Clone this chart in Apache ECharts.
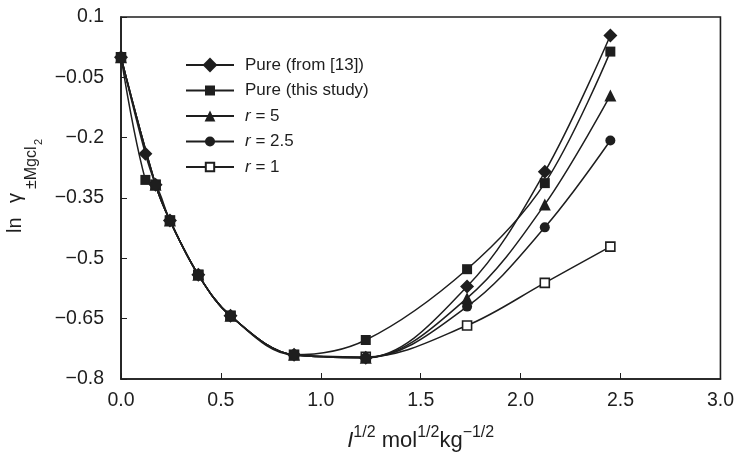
<!DOCTYPE html>
<html>
<head>
<meta charset="utf-8">
<script src="https://cdn.jsdelivr.net/npm/echarts@6/dist/echarts.min.js"></script>
<style>html,body{margin:0;padding:0;background:#fff}#c{width:737px;height:457px}</style>
</head>
<body>
<div id="c"></div>
<script>
// sqrt(I) values
var xPure = [0, 0.122, 0.173, 0.245, 0.387, 0.548, 0.866, 1.225, 1.732, 2.121, 2.449];
var xMix  = [0, 0.173, 0.245, 0.387, 0.548, 0.866, 1.225, 1.732, 2.121, 2.449];

var pureRef   = [0.000, -0.240, -0.317, -0.406, -0.541, -0.643, -0.740, -0.747, -0.570, -0.285, 0.054];
var pureStudy = [0.000, -0.305, -0.317, -0.406, -0.541, -0.643, -0.740, -0.703, -0.527, -0.313, 0.014];
var r5   = [0.000, -0.317, -0.406, -0.541, -0.643, -0.740, -0.747, -0.599, -0.366, -0.095];
var r25  = [0.000, -0.317, -0.406, -0.541, -0.643, -0.740, -0.747, -0.620, -0.423, -0.207];
var r1   = [0.000, -0.317, -0.406, -0.541, -0.643, -0.740, -0.745, -0.667, -0.561, -0.471];

var seriesNames = ['Pure (from [13])', 'Pure (this study)', 'r = 5', 'r = 2.5', 'r = 1'];
var xTickLabels = ['0.0', '0.5', '1.0', '1.5', '2.0', '2.5', '3.0'];
var yTickLabels = ['\u22120.8', '\u22120.65', '\u22120.5', '\u22120.35', '\u22120.2', '\u22120.05', '0.1'];

function pairs(xs, ys) { return ys.map(function (y, i) { return [xs[i], y]; }); }

var INK = '#1e1e1e';
var FONT = '"Liberation Sans", Arial, Helvetica, sans-serif';

function mk(name, xs, ys, symbol, size, hollow, z) {
  return {
    name: name, type: 'line', smooth: 0.35,
    data: pairs(xs, ys),
    symbol: symbol, symbolSize: size,
    showAllSymbol: true,
    lineStyle: { color: INK, width: 1.5 },
    itemStyle: hollow ? { color: '#fff', borderColor: INK, borderWidth: 1.6 } : { color: INK, borderColor: INK, borderWidth: 0 },
    emphasis: { disabled: true },
    z: z
  };
}

// one legend per row so each icon can carry its own marker size
var legendRowCenters = [65, 90.5, 116, 141.5, 167];
var legendIconHeights = [18.5, 12.5, 13.5, 12.5, 10.5];
var legends = seriesNames.map(function (n, i) {
  return {
    orient: 'vertical', left: 185, top: legendRowCenters[i] - 10, padding: 0,
    itemWidth: 48, itemHeight: legendIconHeights[i],
    data: [n],
    selectedMode: false,
    formatter: function (s) { return s.charAt(0) === 'r' ? '{i|r}{t|' + s.slice(1) + '}' : '{t|' + s + '}'; },
    textStyle: {
      color: INK, fontSize: 17, fontFamily: FONT, lineHeight: 20, padding: [0, 0, 0, 6],
      rich: {
        t: { fontSize: 17, fontFamily: FONT, color: INK, lineHeight: 20 },
        i: { fontSize: 17, fontFamily: FONT, color: INK, fontStyle: 'italic', lineHeight: 20 }
      }
    }
  };
});

function ytext(str, size, x, y) {
  return {
    type: 'text', x: x, y: y, rotation: Math.PI / 2, silent: true,
    style: { text: str, fontSize: size, fontFamily: FONT, fill: INK, align: 'left', verticalAlign: 'middle' }
  };
}

var chart = echarts.init(document.getElementById('c'), null, { renderer: 'canvas' });
chart.setOption({
  animation: false,
  backgroundColor: '#fff',
  textStyle: { fontFamily: FONT },
  grid: { left: 121, right: 15, top: 17, bottom: 66, show: true, borderColor: INK, borderWidth: 1.6, containLabel: false },
  legend: legends,
  xAxis: {
    type: 'value', min: 0, max: 3, interval: 0.5,
    axisLine: { onZero: false, lineStyle: { color: INK, width: 1.6 } },
    axisTick: { inside: true, length: 6, lineStyle: { color: INK, width: 1 } },
    splitLine: { show: false },
    axisLabel: {
      color: INK, fontSize: 19.5, fontFamily: FONT, margin: 12,
      formatter: function (v) { return xTickLabels[Math.round(v / 0.5)]; }
    },
    name: '{i|I}{s|1/2}{n| mol}{s|1/2}{n|kg}{s|\u22121/2}',
    nameLocation: 'middle', nameGap: 46,
    nameTextStyle: {
      rich: {
        i: { fontSize: 22, fontFamily: FONT, color: INK, fontStyle: 'italic', lineHeight: 27, verticalAlign: 'bottom' },
        n: { fontSize: 22, fontFamily: FONT, color: INK, lineHeight: 27, verticalAlign: 'bottom' },
        s: { fontSize: 16, fontFamily: FONT, color: INK, lineHeight: 16, verticalAlign: 'top' }
      }
    }
  },
  yAxis: {
    type: 'value', min: -0.8, max: 0.1, interval: 0.15,
    axisLine: { onZero: false, lineStyle: { color: INK, width: 1.6 } },
    axisTick: { inside: true, length: 6, lineStyle: { color: INK, width: 1 } },
    splitLine: { show: false },
    axisLabel: {
      color: INK, fontSize: 19.5, fontFamily: FONT, margin: 17,
      formatter: function (v) { return yTickLabels[Math.round((v + 0.8) / 0.15)]; }
    }
  },
  graphic: [
    ytext('ln', 20, 15, 233),
    ytext('\u03b3', 20, 15, 203),
    ytext('\u00b1Mgcl', 16, 31.5, 189),
    ytext('2', 11, 38.5, 145)
  ],
  series: [
    mk(seriesNames[0], xPure, pureRef, 'diamond', 14, false, 7),
    mk(seriesNames[1], xPure, pureStudy, 'rect', 10, false, 6),
    mk(seriesNames[2], xMix, r5, 'triangle', 12, false, 5),
    mk(seriesNames[3], xMix, r25, 'circle', 10, false, 4),
    mk(seriesNames[4], xMix, r1, 'rect', 9, true, 3)
  ]
});
</script>
</body>
</html>
